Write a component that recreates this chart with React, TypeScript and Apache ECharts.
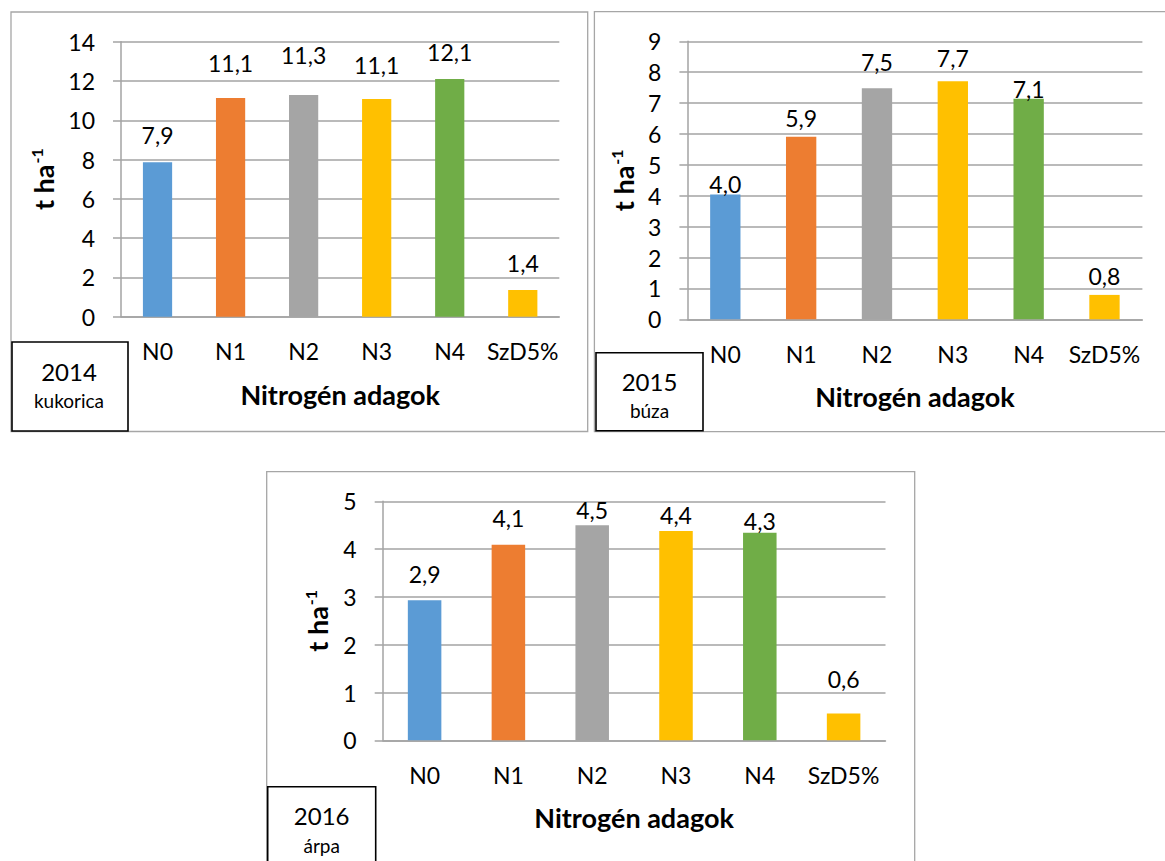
import React, { useEffect, useRef } from "react";
import * as echarts from "echarts";

const categories = ["N0", "N1", "N2", "N3", "N4", "SzD5%"];
const values2014 = [7.86, 11.13, 11.29, 11.08, 12.1, 1.36];
const values2015 = [4.04, 5.91, 7.48, 7.71, 7.14, 0.79];
const values2016 = [2.93, 4.09, 4.5, 4.38, 4.34, 0.56];
const yMax = [14, 9, 5];
const yInterval = [2, 1, 1];
const years = ["2014", "2015", "2016"];
const crops = ["kukorica", "búza", "árpa"];
const xTitle = "Nitrogén adagok";

const barColors = ["#5B9BD5", "#ED7D31", "#A5A5A5", "#FFC000", "#70AD47", "#FFC000"];
const labelGaps = [
  [15.5, 23.5, 28.5, 23, 16, 15],
  [-0.5, 7, 15, 12, -2, 7.5],
  [15, 15, 4, 4.5, 0.5, 23],
];

const FONT = "Lato, 'Open Sans', sans-serif";
const GRID_COLOR = "#a3a3a3";
const TICK_FS = 23;

const grids = [
  { left: 121, top: 41.7, width: 438.3, height: 275 },
  { left: 687.4, top: 41.3, width: 455, height: 278 },
  { left: 382.7, top: 501.3, width: 502.8, height: 239 },
];
const yNameGaps = [63, 49, 50];
const frames = [
  { x: 11, y: 12, w: 576.7, h: 419.5 },
  { x: 594.4, y: 11.7, w: 580, h: 420 },
  { x: 266.7, y: 471.7, w: 648, h: 400 },
];
const boxes = [
  { x: 12, y: 342, w: 116, h: 89, cx: 69, ty: 371, sy: 400 },
  { x: 596, y: 352.7, w: 107, h: 78, cx: 649.5, ty: 381, sy: 410 },
  { x: 267.7, y: 786.7, w: 108, h: 90, cx: 321.7, ty: 815, sy: 845 },
];

const seriesValues = [values2014, values2015, values2016];

export default function App() {
  const ref = useRef<HTMLDivElement>(null);
  useEffect(() => {
    if (!ref.current) return;
    const chart = echarts.init(ref.current, null, { renderer: "svg" });
    const fmt = (v: number) => v.toFixed(1).replace(".", ",");

    const graphic: any[] = [];
    frames.forEach((f) => {
      graphic.push({
        type: "rect",
        shape: { x: f.x, y: f.y, width: f.w, height: f.h },
        style: { fill: "none", stroke: "#a6a6a6", lineWidth: 1.3 },
        z: 0,
      });
    });
    boxes.forEach((b, i) => {
      graphic.push({
        type: "rect",
        shape: { x: b.x, y: b.y, width: b.w, height: b.h },
        style: { fill: "#fff", stroke: "#000", lineWidth: 1.6 },
        z: 10,
      });
      graphic.push({
        type: "text",
        x: b.cx,
        y: b.ty,
        z: 11,
        style: {
          text: years[i],
          fontSize: 24,
          fontFamily: FONT,
          fill: "#000",
          align: "center",
          verticalAlign: "middle",
        },
      });
      graphic.push({
        type: "text",
        x: b.cx,
        y: b.sy,
        z: 11,
        style: {
          text: crops[i],
          fontSize: 19,
          fontFamily: FONT,
          fill: "#000",
          align: "center",
          verticalAlign: "middle",
        },
      });
    });

    const option: any = {
      animation: false,
      backgroundColor: "#fff",
      textStyle: { fontFamily: FONT },
      grid: grids.map((g) => ({ ...g, containLabel: false })),
      xAxis: grids.map((_, i) => ({
        type: "category",
        gridIndex: i,
        data: categories,
        axisLine: { show: true, lineStyle: { color: GRID_COLOR, width: 1.5 } },
        axisTick: { show: false },
        axisLabel: { color: "#000", fontSize: TICK_FS, fontFamily: FONT, margin: 23, interval: 0 },
        name: xTitle,
        nameLocation: "middle",
        nameGap: 64,
        nameTextStyle: { color: "#000", fontSize: 27, fontWeight: "bold", fontFamily: FONT },
      })),
      yAxis: grids.map((_, i) => ({
        type: "value",
        gridIndex: i,
        min: 0,
        max: yMax[i],
        interval: yInterval[i],
        axisLine: { show: true, lineStyle: { color: GRID_COLOR, width: 1.5 } },
        axisTick: { show: true, length: 8, lineStyle: { color: GRID_COLOR, width: 1.5 } },
        splitLine: { show: true, lineStyle: { color: GRID_COLOR, width: 1.5 } },
        axisLabel: { color: "#000", fontSize: TICK_FS, fontFamily: FONT, margin: 26 },
        name: "{a|t ha}{b|-1}",
        nameLocation: "middle",
        nameGap: yNameGaps[i],
        nameTextStyle: {
          color: "#000",
          rich: {
            a: { fontSize: 27, fontWeight: "bold", fontFamily: FONT, color: "#000", lineHeight: 30 },
            b: { fontSize: 16, fontWeight: "bold", fontFamily: FONT, color: "#000", verticalAlign: "top", lineHeight: 30, padding: [0, 0, 8, 1] },
          },
        },
      })),
      series: seriesValues.map((vals, i) => ({
        type: "bar",
        xAxisIndex: i,
        yAxisIndex: i,
        barWidth: "40%",
        data: vals.map((v, j) => ({
          value: v,
          itemStyle: { color: barColors[j] },
          label: { distance: labelGaps[i][j] },
        })),
        label: {
          show: true,
          position: "top",
          color: "#000",
          fontSize: TICK_FS,
          fontFamily: FONT,
          formatter: (p: any) => fmt(p.value),
        },
      })),
      graphic,
    };
    chart.setOption(option);
    return () => chart.dispose();
  }, []);
  return (
    <div
      ref={ref}
      style={{ position: "absolute", left: 0, top: 0, width: 1165, height: 861 }}
    />
  );
}
